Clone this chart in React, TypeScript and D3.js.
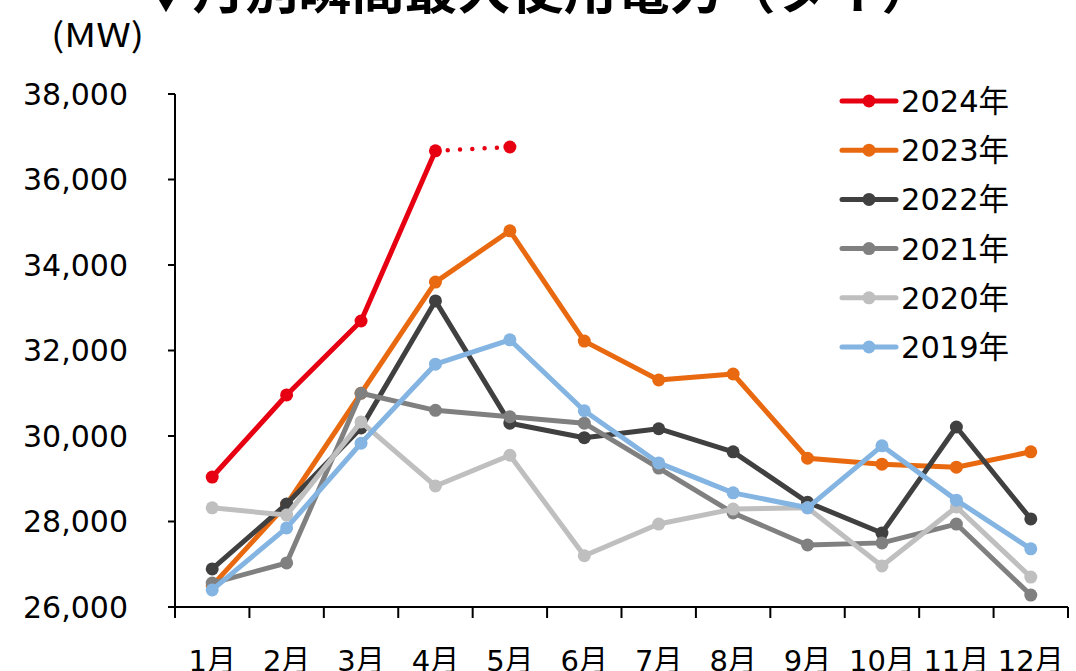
import React from "react"
import * as d3 from "d3"

const months = ["1月", "2月", "3月", "4月", "5月", "6月", "7月", "8月", "9月", "10月", "11月", "12月"]
const yTicks = [26000, 28000, 30000, 32000, 34000, 36000, 38000]

const y2024 = [29040, 30960, 32690, 36670, 36760]
const y2023 = [26500, 28400, 31000, 33600, 34800, 32220, 31310, 31450, 29480, 29340, 29270, 29630]
const y2022 = [26890, 28410, 30190, 33160, 30300, 29960, 30170, 29630, 28450, 27730, 30210, 28060]
const y2021 = [26560, 27030, 31000, 30600, 30450, 30300, 29250, 28200, 27450, 27500, 27940, 26280]
const y2020 = [28320, 28150, 30330, 28830, 29550, 27200, 27940, 28290, 28320, 26960, 28340, 26700]
const y2019 = [26400, 27850, 29830, 31680, 32250, 30590, 29370, 28670, 28320, 29770, 28500, 27360]

const series = [
  { name: "2024年", color: "#e60012", values: y2024 },
  { name: "2023年", color: "#e8690f", values: y2023 },
  { name: "2022年", color: "#404040", values: y2022 },
  { name: "2021年", color: "#808080", values: y2021 },
  { name: "2020年", color: "#bfbfbf", values: y2020 },
  { name: "2019年", color: "#83b4e2", values: y2019 },
]

const font = "'DejaVu Sans', 'Noto Sans CJK JP', sans-serif"

export default function App() {
  const width = 1076, height = 671
  const left = 175, right = 1068, top = 94, bottom = 607

  const x = d3.scaleBand().domain(months).range([left, right])
  const y = d3.scaleLinear().domain([26000, 38000]).range([bottom, top])
  const cx = (i: number) => x(months[i])! + x.bandwidth() / 2

  const line = d3.line<number>().x((d, i) => cx(i)).y(d => y(d))

  return (
    <svg width={width} height={height} style={{ position: "absolute", left: 0, top: 0, background: "#fff" }}
      fontFamily={font}>
      <text x={537} y={9} textAnchor="middle" fontSize={53} fontWeight="bold" fill="#000"
        fontFamily="'Noto Sans CJK JP', sans-serif">▼月別瞬間最大使用電力（タイ）</text>
      <text x={51} y={47} fontSize={33} fill="#000" textLength={93} lengthAdjust="spacingAndGlyphs"
        fontFamily="'Noto Sans CJK JP', sans-serif">(MW)</text>

      {/* y axis */}
      <line x1={left} x2={left} y1={top} y2={bottom} stroke="#000" strokeWidth={2} />
      {yTicks.map(t => (
        <g key={t}>
          <line x1={left - 7} x2={left} y1={y(t)} y2={y(t)} stroke="#000" strokeWidth={2} />
          <text x={128} y={y(t)} dy="0.36em" textAnchor="end" fontSize={30} fill="#000">
            {d3.format(",")(t)}
          </text>
        </g>
      ))}

      {/* x axis */}
      <line x1={left} x2={right} y1={bottom} y2={bottom} stroke="#000" strokeWidth={2} />
      {months.map(m => (
        <line key={"t" + m} x1={x(m)!} x2={x(m)!} y1={bottom} y2={bottom + 11} stroke="#000" strokeWidth={2} />
      ))}
      <line x1={right} x2={right} y1={bottom} y2={bottom + 11} stroke="#000" strokeWidth={2} />
      {months.map((m, i) => (
        <text key={m} x={cx(i)} y={671} textAnchor="middle" fontSize={29} fill="#000">{m}</text>
      ))}

      {/* series, 2019 drawn last */}
      {series.map(s => {
        const isCurrent = s.name === "2024年"
        const solid = isCurrent ? s.values.slice(0, 4) : s.values
        return (
          <g key={s.name}>
            <path d={line(solid)!} fill="none" stroke={s.color} strokeWidth={5} strokeLinejoin="round" />
            {isCurrent && (
              <line x1={cx(3)} y1={y(s.values[3])} x2={cx(4)} y2={y(s.values[4])}
                stroke={s.color} strokeWidth={4.5} strokeLinecap="round" strokeDasharray="0 12.3" />
            )}
            {s.values.map((v, i) => (
              <circle key={i} cx={cx(i)} cy={y(v)} r={6.5} fill={s.color} />
            ))}
          </g>
        )
      })}

      {/* legend */}
      {series.map((s, i) => {
        const ly = 101 + i * 49.2
        return (
          <g key={"l" + s.name}>
            <line x1={842} x2={896} y1={ly} y2={ly} stroke={s.color} strokeWidth={5} strokeLinecap="round" />
            <circle cx={869} cy={ly} r={6.5} fill={s.color} />
            <text x={901} y={ly} dy="0.36em" fontSize={30.5} fill="#000">{s.name}</text>
          </g>
        )
      })}
    </svg>
  )
}
